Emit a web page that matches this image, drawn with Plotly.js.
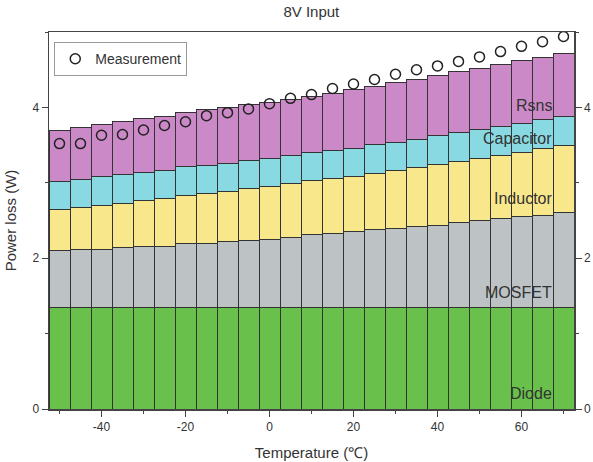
<!DOCTYPE html>
<html>
<head>
<meta charset="utf-8">
<script src="https://cdn.plot.ly/plotly-3.0.1.min.js"></script>
<style>html,body{margin:0;padding:0;background:#fff;}#chart{width:593px;height:462px;}</style>
</head>
<body>
<div id="chart"></div>
<script>
// Temperature (°C)
const temperature = [-50,-45,-40,-35,-30,-25,-20,-15,-10,-5,0,5,10,15,20,25,30,35,40,45,50,55,60,65,70];
// Loss components (W), stacked bottom to top
const diode     = [1.35,1.35,1.35,1.35,1.35,1.35,1.35,1.35,1.35,1.35,1.35,1.35,1.35,1.35,1.35,1.35,1.35,1.35,1.35,1.35,1.35,1.35,1.35,1.35,1.35];
const mosfet    = [0.75,0.76,0.77,0.79,0.80,0.81,0.84,0.85,0.87,0.88,0.90,0.93,0.96,0.98,1.00,1.03,1.04,1.07,1.09,1.12,1.15,1.17,1.20,1.22,1.26];
const inductor  = [0.54,0.56,0.58,0.59,0.61,0.63,0.64,0.66,0.67,0.69,0.70,0.71,0.72,0.73,0.74,0.75,0.77,0.78,0.80,0.81,0.82,0.84,0.85,0.88,0.89];
const capacitor = [0.38,0.38,0.38,0.38,0.38,0.37,0.38,0.37,0.37,0.37,0.37,0.37,0.37,0.37,0.37,0.38,0.38,0.38,0.39,0.39,0.39,0.39,0.39,0.39,0.38];
const rsns      = [0.68,0.69,0.69,0.70,0.71,0.72,0.72,0.74,0.74,0.75,0.75,0.75,0.75,0.76,0.78,0.77,0.79,0.79,0.79,0.80,0.80,0.82,0.83,0.82,0.83];
// Measured total loss (W)
const measurement = [3.52,3.52,3.63,3.64,3.70,3.76,3.81,3.89,3.93,3.98,4.05,4.12,4.17,4.25,4.31,4.37,4.44,4.50,4.55,4.61,4.67,4.74,4.81,4.87,4.94];
// Tick labels
const xTickVals = [-40,-20,0,20,40,60];
const xTickText = ['-40','-20','0','20','40','60'];
const yTickVals = [0,2,4];
const yTickText = ['0','2','4'];

const seriesNames = ['Diode','MOSFET','Inductor','Capacitor','Rsns'];
const seriesData = [diode, mosfet, inductor, capacitor, rsns];
const seriesColors = ['#69c04b','#bdc3c5','#f9e78c','#88d9e1','#cc89c7'];
const labelY = [0.20, 1.54, 2.79, 3.59, 4.03];

const FONT = 'Arial, "Liberation Sans", sans-serif';
const traces = seriesData.map((d, i) => ({
  type: 'bar', x: temperature, y: d, name: seriesNames[i],
  width: 5, showlegend: false,
  marker: {color: seriesColors[i], line: {color: '#333', width: 1}},
  hoverinfo: 'skip'
}));
traces.push({
  type: 'scatter', mode: 'markers', x: temperature, y: measurement, name: 'Measurement',
  marker: {symbol: 'circle-open', size: 10, color: '#222', line: {width: 1.5, color: '#222'}},
  showlegend: true
});
// trace that carries the right-hand mirrored y axis
traces.push({type: 'scatter', mode: 'markers', x: [temperature[0]], y: [0], yaxis: 'y2',
  marker: {opacity: 0}, showlegend: false, hoverinfo: 'skip'});

const annotations = seriesNames.map((n, i) => ({
  text: n, x: 67.8, y: labelY[i], xref: 'x', yref: 'y', xanchor: 'right', yanchor: 'middle',
  showarrow: false, font: {family: FONT, size: 16, color: '#333'}
}));

const yAxisCommon = {
  range: [0, 5], showgrid: false, zeroline: false,
  showline: true, linecolor: '#444', linewidth: 1.5,
  ticks: 'outside', ticklen: 6, tickwidth: 1, tickcolor: '#444',
  tickmode: 'array', tickvals: yTickVals, ticktext: yTickText,
  minor: {ticks: 'outside', ticklen: 3, tickcolor: '#444', dtick: 1, tick0: 0},
  tickfont: {family: FONT, size: 12, color: '#333'}
};

const layout = {
  width: 593, height: 462,
  margin: {l: 49, r: 19, t: 32, b: 53},
  barmode: 'stack', bargap: 0,
  paper_bgcolor: '#fff', plot_bgcolor: '#fff',
  font: {family: FONT, color: '#333'},
  title: {text: '8V Input', font: {family: FONT, size: 15, color: '#333'},
    x: 0.525, xanchor: 'center', y: 0.975, yanchor: 'middle', yref: 'container'},
  xaxis: {
    range: [-52.5, 72.5], showgrid: false, zeroline: false,
    showline: true, linecolor: '#444', linewidth: 1.5, mirror: true,
    ticks: 'outside', ticklen: 6, tickwidth: 1, tickcolor: '#444',
    tickmode: 'array', tickvals: xTickVals, ticktext: xTickText,
    minor: {ticks: 'outside', ticklen: 3, tickcolor: '#444', dtick: 10, tick0: 0},
    tickfont: {family: FONT, size: 12, color: '#333'},
    title: {text: 'Temperature (℃)', font: {family: FONT, size: 15, color: '#333'}, standoff: 14}
  },
  yaxis: Object.assign({}, yAxisCommon, {
    title: {text: 'Power loss (W)', font: {family: FONT, size: 15, color: '#333'}, standoff: 12}
  }),
  yaxis2: Object.assign({}, yAxisCommon, {overlaying: 'y', side: 'right'}),
  legend: {x: 0.01, y: 0.973, xanchor: 'left', yanchor: 'top',
    bgcolor: '#fff', bordercolor: '#999', borderwidth: 1,
    font: {family: FONT, size: 14, color: '#333'}},
  annotations: annotations,
  showlegend: true
};

Plotly.newPlot('chart', traces, layout, {displayModeBar: false, staticPlot: true});
</script>
</body>
</html>
